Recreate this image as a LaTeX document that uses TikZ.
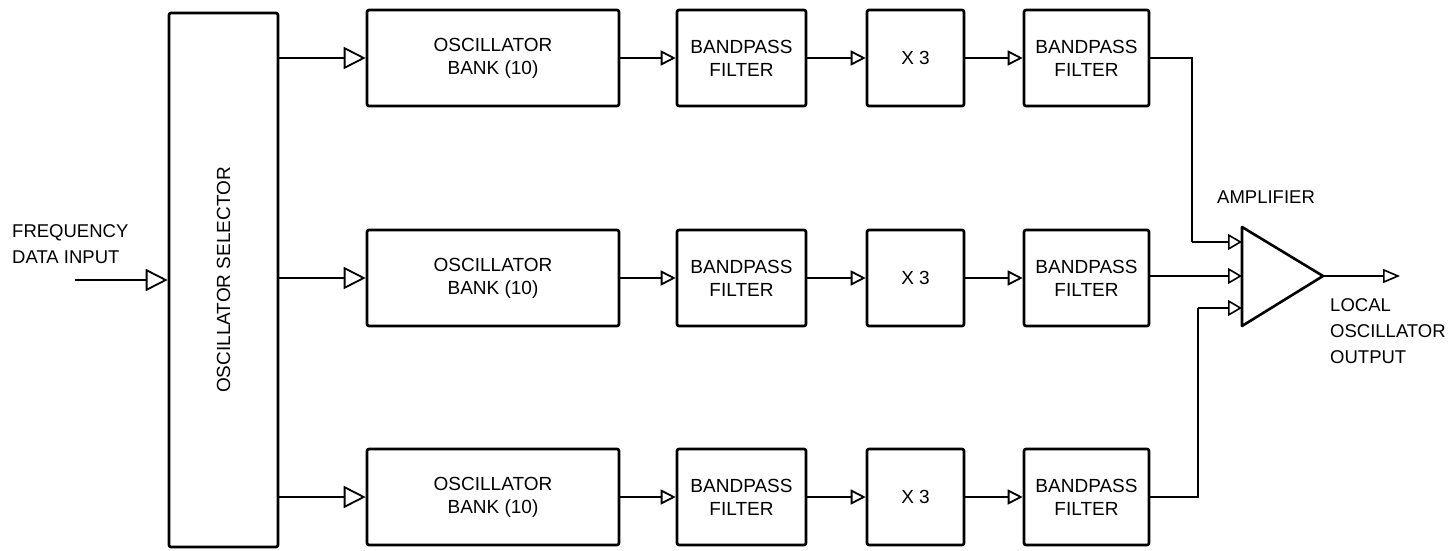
\documentclass[tikz,border=0pt]{standalone}
\usepackage{fontspec}
\setmainfont{Liberation Sans}
\usetikzlibrary{arrows.meta}
\begin{document}
\begin{tikzpicture}[x=1pt,y=-1pt,
  blk/.style={draw, line width=2.6pt, rounded corners=2pt, inner sep=0pt, align=center,
    font=\fontsize{19}{23}\selectfont},
  lbl/.style={inner sep=0pt, align=left, font=\fontsize{18.5}{26}\selectfont},
  bigarr/.style={line width=2pt, -{Triangle[open, length=22pt, width=22pt, line width=1.8pt]}},
  smarr/.style={line width=2pt, -{Triangle[open, length=15pt, width=15pt, line width=1.8pt]}},
  amparr/.style={line width=2pt, -{Triangle[open, length=14pt, width=16pt, line width=1.6pt]}},
  wire/.style={line width=2pt}]
\useasboundingbox (0,0) rectangle (1456,551);

% oscillator selector
\node[blk, minimum width=109pt, minimum height=534pt] (sel) at (223.5,280) {};
\node[rotate=90, font=\fontsize{19}{23}\selectfont, inner sep=0pt] (seltxt) at (sel.center) {OSCILLATOR SELECTOR};

% input
\node[lbl, anchor=west] (inlbl) at (12,244) {FREQUENCY\\DATA INPUT};
\coordinate (inp) at (75,280);
\draw[bigarr] (inp) -- (inp -| sel.west);

% rows
\foreach \r/\y in {1/58, 2/278, 3/497} {
  \node[blk, minimum width=252pt, minimum height=96pt] (ob\r) at (493,\y) {OSCILLATOR\\BANK (10)};
  \node[blk, minimum width=129pt, minimum height=96pt] (bpa\r) at (741.5,\y) {BANDPASS\\FILTER};
  \node[blk, minimum width=97pt, minimum height=96pt] (xt\r) at (915.5,\y) {X 3};
  \node[blk, minimum width=125pt, minimum height=96pt] (bpb\r) at (1086.5,\y) {BANDPASS\\FILTER};
  \draw[bigarr] (sel.east |- ob\r.west) -- (ob\r.west);
  \draw[smarr] (ob\r.east) -- (bpa\r.west);
  \draw[smarr] (bpa\r.east) -- (xt\r.west);
  \draw[smarr] (xt\r.east) -- (bpb\r.west);
}

% amplifier
\coordinate (amptl) at (1242,227);
\coordinate (ampbl) at (1242,326);
\coordinate (ampout) at (1323,276);
\draw[line width=2.6pt, line join=round] (amptl) -- (ampout) -- (ampbl) -- cycle;
\coordinate (in1) at (1242,242);
\coordinate (in2) at (1242,276);
\coordinate (in3) at (1242,308);
\coordinate (c1) at (1192,58);
\coordinate (c3) at (1198,497);
\draw[wire] (bpb1.east) -- (c1) -- (c1 |- in1);
\draw[amparr] (c1 |- in1) -- (in1);
\draw[amparr] (bpb2.east |- in2) -- (in2);
\draw[wire] (bpb3.east) -- (c3) -- (c3 |- in3);
\draw[amparr] (c3 |- in3) -- (in3);
\node[lbl, anchor=west] (amplbl) at (1217,197) {AMPLIFIER};

% output
\coordinate (outp) at (1400,276);
\draw[line width=2pt, -{Triangle[open, length=17pt, width=14pt, line width=1.6pt]}] (ampout) -- (outp);
\node[lbl, anchor=north west] (outlbl) at (1330,298) {LOCAL\\OSCILLATOR\\OUTPUT};
\end{tikzpicture}
\end{document}
